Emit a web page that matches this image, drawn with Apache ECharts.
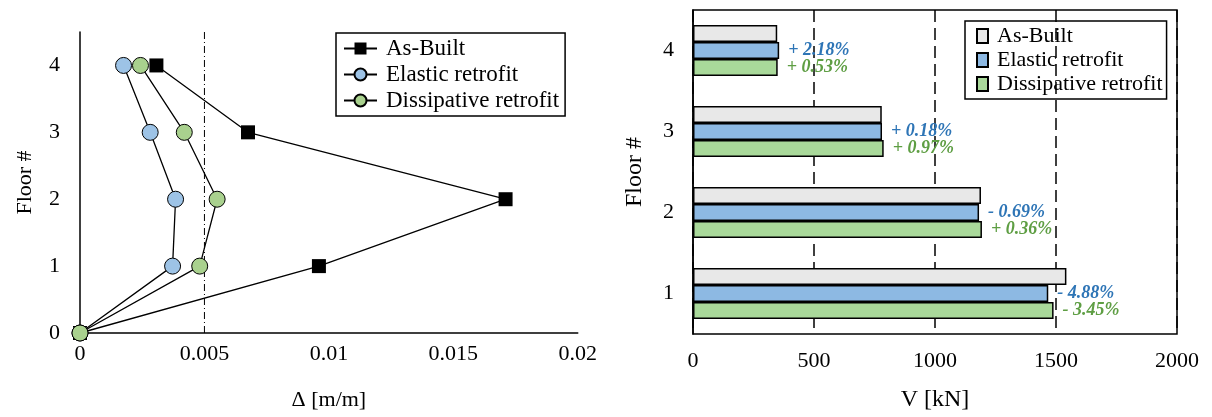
<!DOCTYPE html>
<html>
<head>
<meta charset="utf-8">
<title>Drift and shear per floor</title>
<script src="https://cdn.jsdelivr.net/npm/echarts@6/dist/echarts.min.js"></script>
<style>
    html, body { margin: 0; padding: 0; background: #fff; }
    #drift_chart { position: absolute; left: 0; top: 0; width: 600px; height: 417px; }
    #shear_chart { position: absolute; left: 600px; top: 0; width: 612px; height: 417px; }
</style>
</head>
<body>
<div id="drift_chart"></div>
<div id="shear_chart"></div>
<script>

// Data
// ------------------------------

// Inter-storey drift per floor (floor 0..4)
var floors = [0, 1, 2, 3, 4];
var driftAsBuilt = [0, 0.0096, 0.0171, 0.00675, 0.00307];
var driftElastic = [0, 0.00372, 0.00384, 0.00282, 0.00175];
var driftDissipative = [0, 0.00481, 0.00551, 0.00419, 0.00243];
var driftLimit = 0.005;

// Storey shear per floor (floor 1..4)
var shearFloors = ['1', '2', '3', '4'];
var shearAsBuilt = [1543, 1190, 780, 348];
var shearElastic = [1468, 1182, 781, 356];
var shearDissipative = [1490, 1194, 788, 350];
var elasticDelta = ['- 4.88%', '- 0.69%', '+ 0.18%', '+ 2.18%'];
var dissipativeDelta = ['- 3.45%', '+ 0.36%', '+ 0.97%', '+ 0.53%'];


// Setup module
// ------------------------------

var FloorCharts = function() {

    var font = 'Liberation Serif';
    var pairs = function(values) {
        return floors.map(function(f, i) { return [values[i], f]; });
    };

    // Drift profile
    var _driftChart = function() {
        var el = document.getElementById('drift_chart');
        if (!el) return;
        var chart = echarts.init(el, null, { renderer: 'canvas' });

        var lineStyle = { color: '#000', width: 1.3 };
        var circleStyle = function(fill) {
            return { color: fill, borderColor: '#000', borderWidth: 1 };
        };

        chart.setOption({
            animation: false,
            textStyle: { fontFamily: font, color: '#000' },
            grid: { left: 80, top: 32, width: 500, height: 301 },
            legend: {
                orient: 'vertical',
                left: 336,
                top: 33,
                borderColor: '#000',
                borderWidth: 1.5,
                padding: [4, 6, 4, 7],
                itemGap: 3,
                itemWidth: 33,
                itemHeight: 15,
                textStyle: { fontFamily: font, fontSize: 23, color: '#000', padding: [0, 0, 0, 4] },
                data: ['As-Built', 'Elastic retrofit', 'Dissipative retrofit']
            },
            xAxis: {
                type: 'value',
                min: 0,
                max: 0.02,
                interval: 0.005,
                name: 'Δ [m/m]',
                nameLocation: 'middle',
                nameGap: 56,
                nameTextStyle: { fontFamily: font, fontSize: 22, color: '#000' },
                axisLine: { show: true, onZero: false, lineStyle: { color: '#000', width: 1.5 } },
                axisTick: { show: false },
                splitLine: { show: false },
                axisLabel: { fontFamily: font, fontSize: 22, color: '#000', margin: 10 }
            },
            yAxis: {
                type: 'value',
                min: 0,
                max: 4.5,
                interval: 1,
                name: 'Floor #',
                nameLocation: 'middle',
                nameGap: 44,
                nameTextStyle: { fontFamily: font, fontSize: 22, color: '#000' },
                axisLine: { show: true, onZero: false, lineStyle: { color: '#000', width: 1.5 } },
                axisTick: { show: false },
                splitLine: { show: false },
                axisLabel: {
                    fontFamily: font, fontSize: 22, color: '#000', margin: 20,
                    formatter: function(v) { return v % 1 === 0 ? v : ''; }
                }
            },
            series: [
                {
                    // dash-dot drift limit
                    name: 'limit',
                    type: 'line',
                    data: [[driftLimit, 0], [driftLimit, 4.5]],
                    symbol: 'none',
                    silent: true,
                    lineStyle: { color: '#000', width: 1, type: [7, 3, 1, 3] },
                    z: 1
                },
                {
                    name: 'As-Built',
                    type: 'line',
                    data: pairs(driftAsBuilt),
                    symbol: 'rect',
                    symbolSize: 14,
                    itemStyle: { color: '#000' },
                    lineStyle: lineStyle,
                    z: 3
                },
                {
                    name: 'Elastic retrofit',
                    type: 'line',
                    data: pairs(driftElastic),
                    symbol: 'circle',
                    symbolSize: 16,
                    itemStyle: circleStyle('#9DC3E6'),
                    lineStyle: lineStyle,
                    z: 4
                },
                {
                    name: 'Dissipative retrofit',
                    type: 'line',
                    data: pairs(driftDissipative),
                    symbol: 'circle',
                    symbolSize: 16,
                    itemStyle: circleStyle('#A9D18E'),
                    lineStyle: lineStyle,
                    z: 5
                }
            ]
        });
    };

    // Storey shear bars
    var _shearChart = function() {
        var el = document.getElementById('shear_chart');
        if (!el) return;
        var chart = echarts.init(el, null, { renderer: 'canvas' });

        var deltaLabel = function(texts, color) {
            return {
                show: true,
                position: 'right',
                distance: 9,
                fontFamily: font,
                fontSize: 18,
                fontStyle: 'italic',
                fontWeight: 'bold',
                color: color,
                formatter: function(p) { return texts[p.dataIndex]; }
            };
        };
        var barStyle = function(fill) {
            return { color: fill, borderColor: '#000', borderWidth: 1.5 };
        };

        chart.setOption({
            animation: false,
            textStyle: { fontFamily: font, color: '#000' },
            grid: {
                left: 93, top: 10, width: 484, height: 334,
                show: true, borderColor: '#000', borderWidth: 1.5
            },
            legend: {
                orient: 'vertical',
                left: 365,
                top: 21,
                borderColor: '#000',
                borderWidth: 1.5,
                padding: [4, 4, 4, 11],
                itemGap: 2,
                itemWidth: 11,
                itemHeight: 14,
                icon: 'rect',
                textStyle: { fontFamily: font, fontSize: 22, color: '#000', padding: [0, 0, 0, 4] },
                data: ['As-Built', 'Elastic retrofit', 'Dissipative retrofit']
            },
            xAxis: {
                type: 'value',
                min: 0,
                max: 2000,
                interval: 500,
                name: 'V [kN]',
                nameLocation: 'middle',
                nameGap: 54,
                nameTextStyle: { fontFamily: font, fontSize: 24, color: '#000' },
                axisLine: { show: false },
                axisTick: { show: false },
                splitLine: { show: true, lineStyle: { color: '#000', width: 1.5, type: [12, 6] } },
                axisLabel: {
                    fontFamily: font, fontSize: 22, color: '#000', margin: 16,
                    formatter: function(v) { return String(v); }
                }
            },
            yAxis: {
                type: 'category',
                data: shearFloors,
                name: 'Floor #',
                nameLocation: 'middle',
                nameGap: 46,
                nameTextStyle: { fontFamily: font, fontSize: 24, color: '#000' },
                axisLine: { show: true, lineStyle: { color: '#000', width: 1.5 } },
                axisTick: { show: false },
                axisLabel: { fontFamily: font, fontSize: 22, color: '#000', margin: 19 }
            },
            series: [
                {
                    name: 'As-Built',
                    type: 'bar',
                    data: shearAsBuilt,
                    barWidth: 17,
                    barGap: '0%',
                    itemStyle: barStyle('#E8E8E8')
                },
                {
                    name: 'Elastic retrofit',
                    type: 'bar',
                    data: shearElastic,
                    barWidth: 17,
                    barGap: '0%',
                    itemStyle: barStyle('#8DB9E3'),
                    label: deltaLabel(elasticDelta, '#2E75B6')
                },
                {
                    name: 'Dissipative retrofit',
                    type: 'bar',
                    data: shearDissipative,
                    barWidth: 17,
                    barGap: '0%',
                    itemStyle: barStyle('#A9D99A'),
                    label: deltaLabel(dissipativeDelta, '#5E9E43')
                }
            ]
        });
    };

    return {
        init: function() {
            _driftChart();
            _shearChart();
        }
    };
}();


// Initialize module
// ------------------------------

document.addEventListener('DOMContentLoaded', function() {
    FloorCharts.init();
});
</script>
</body>
</html>
